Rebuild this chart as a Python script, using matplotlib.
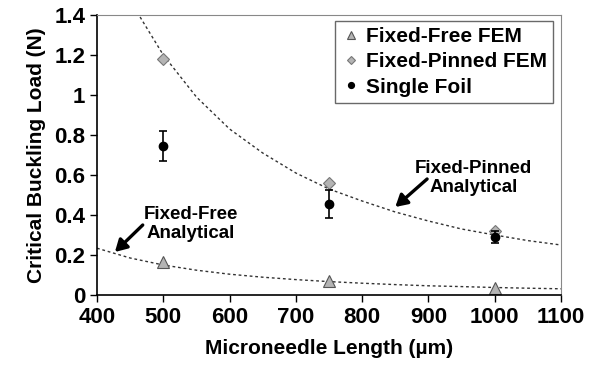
import numpy as np
import matplotlib.pyplot as plt

plt.rcParams['font.family'] = ['Liberation Sans', 'DejaVu Sans']
plt.rcParams['font.weight'] = 'bold'

# FEM and measured points
lengths = [500, 750, 1000]
free_fem = [0.165, 0.07, 0.035]
pinned_fem = [1.18, 0.56, 0.32]
foil = [0.745, 0.455, 0.29]
foil_err = [0.075, 0.07, 0.03]

# analytical curves
pinned_x = [465, 500, 550, 600, 650, 700, 750, 800, 850, 900, 950, 1000, 1050, 1100]
pinned_y = [1.39, 1.20, 0.99, 0.83, 0.71, 0.61, 0.53, 0.47, 0.415, 0.37, 0.33, 0.30, 0.272, 0.25]
free_x = [400, 450, 500, 550, 600, 650, 700, 750, 800, 850, 900, 950, 1000, 1050, 1100]
free_y = [0.234, 0.185, 0.15, 0.124, 0.104, 0.089, 0.077, 0.067, 0.059, 0.052, 0.046, 0.042, 0.0375, 0.034, 0.031]

fig = plt.figure(figsize=(5.93, 3.65), dpi=100)
ax = fig.add_axes([97 / 593, 70 / 365, 464 / 593, 280 / 365])

ax.plot(pinned_x, pinned_y, linestyle=(0, (2, 2)), color='#333333', lw=1.0)
ax.plot(free_x, free_y, linestyle=(0, (2, 2)), color='#333333', lw=1.0)

ax.plot(lengths, free_fem, linestyle='none', marker='^', ms=8, mfc='#b4b4b4',
        mec='#555555', mew=0.8, label='Fixed-Free FEM')
ax.plot(lengths, pinned_fem, linestyle='none', marker='D', ms=6, mfc='#b4b4b4',
        mec='#777777', mew=0.8, label='Fixed-Pinned FEM')
ax.errorbar(lengths, foil, yerr=foil_err, fmt='none', ecolor='black',
            elinewidth=1.2, capsize=3, capthick=1.2)
ax.plot(lengths, foil, linestyle='none', marker='o', ms=6, color='black',
        label='Single Foil')

ax.set_xlim(400, 1100)
ax.set_ylim(0, 1.4)
ax.set_xticks(np.arange(400, 1101, 100))
ax.set_yticks([0, 0.2, 0.4, 0.6, 0.8, 1.0, 1.2, 1.4])
ax.set_yticklabels(['0', '0.2', '0.4', '0.6', '0.8', '1', '1.2', '1.4'])
ax.tick_params(labelsize=16, direction='out', length=5, width=1)

for s in ['top', 'right']:
    ax.spines[s].set_color('#888888')
ax.spines['left'].set_linewidth(1.2)
ax.spines['bottom'].set_linewidth(1.2)

ax.set_xlabel('Microneedle Length (\u00b5m)', fontsize=15, fontweight='bold', labelpad=8)
ax.set_ylabel('Critical Buckling Load (N)', fontsize=15, fontweight='bold', labelpad=6)

arrow = dict(arrowstyle='-|>,head_width=0.4,head_length=0.7', color='black',
             lw=2.4, shrinkA=0, shrinkB=0)
ax.text(542, 0.355, 'Fixed-Free\nAnalytical', ha='center', va='center',
        fontsize=13.5, fontweight='bold', linespacing=1.15)
ax.annotate('', xy=(427, 0.215), xytext=(469, 0.35), arrowprops=arrow)
ax.text(968, 0.585, 'Fixed-Pinned\nAnalytical', ha='center', va='center',
        fontsize=13.5, fontweight='bold', linespacing=1.15)
ax.annotate('', xy=(850, 0.44), xytext=(898, 0.58), arrowprops=arrow)

leg = ax.legend(loc='upper right', bbox_to_anchor=(0.983, 0.979), borderaxespad=0,
                fontsize=15, frameon=True, fancybox=False, edgecolor='#444444',
                handletextpad=0.2, borderpad=0.3, labelspacing=0.3,
                handlelength=1.0, markerscale=0.7)
leg.get_frame().set_linewidth(1.0)

fig.savefig('out.png', dpi=100)
